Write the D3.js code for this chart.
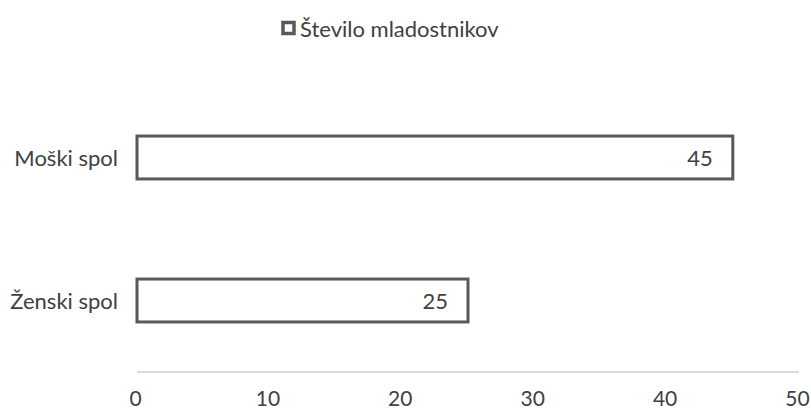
<!DOCTYPE html>
<html>
<head>
<meta charset="utf-8">
<script src="https://cdn.jsdelivr.net/npm/d3@7"></script>
<style>
  body { margin: 0; background: #fff; }
  text { font-family: Lato, "Open Sans", sans-serif; fill: #404040; }
</style>
</head>
<body>
<script>
const categories = ['Moški spol', 'Ženski spol'];
const values = [45, 25];
const seriesName = 'Število mladostnikov';
const xTicks = [0, 10, 20, 30, 40, 50];

const width = 811;
const height = 412;
const fontSize = '22px';

var svg = d3.select('body')
    .append('svg')
    .attr('width', width)
    .attr('height', height);

var x_scale = d3.scaleLinear()
    .domain([0, 50])
    .range([137, 799]);

var y_scale = d3.scaleBand()
    .domain(categories)
    .range([86, 372])
    .paddingInner(0.7)
    .paddingOuter(0.35);

// axis line along the bottom
svg.append('line')
    .attr('x1', x_scale(0))
    .attr('x2', x_scale(50))
    .attr('y1', 372)
    .attr('y2', 372)
    .attr('stroke', '#d9d9d9')
    .attr('stroke-width', 2);

var x_axis = d3.axisBottom(x_scale)
    .tickValues(xTicks)
    .tickSize(0)
    .tickPadding(0);

var gx = svg.append('g')
    .attr('transform', 'translate(-2,406)')
    .call(x_axis);
gx.select('.domain').remove();
gx.selectAll('text')
    .style('font-size', '21px')
    .style('font-family', 'Lato, sans-serif')
    .attr('fill', '#404040')
    .attr('y', 0)
    .attr('dy', null);

// bars
svg.selectAll('rect.bar')
    .data(categories)
    .enter()
    .append('rect')
    .attr('class', 'bar')
    .attr('x', x_scale(0))
    .attr('y', d => y_scale(d))
    .attr('width', (d, i) => x_scale(values[i]) - x_scale(0))
    .attr('height', y_scale.bandwidth())
    .attr('fill', '#fff')
    .attr('stroke', '#595959')
    .attr('stroke-width', 3);

// value labels inside bar ends
svg.selectAll('text.val')
    .data(categories)
    .enter()
    .append('text')
    .attr('class', 'val')
    .attr('x', (d, i) => x_scale(values[i]) - 20)
    .attr('y', d => y_scale(d) + y_scale.bandwidth() / 2)
    .attr('text-anchor', 'end')
    .attr('dominant-baseline', 'central')
    .style('font-size', fontSize)
    .text((d, i) => values[i]);

// category labels
svg.selectAll('text.cat')
    .data(categories)
    .enter()
    .append('text')
    .attr('class', 'cat')
    .attr('x', 118)
    .attr('y', d => y_scale(d) + y_scale.bandwidth() / 2)
    .attr('text-anchor', 'end')
    .attr('dominant-baseline', 'central')
    .style('font-size', fontSize)
    .text(d => d);

// legend
var legend = svg.append('g');
legend.append('rect')
    .attr('x', 283)
    .attr('y', 22.5)
    .attr('width', 11)
    .attr('height', 11)
    .attr('fill', '#fff')
    .attr('stroke', '#595959')
    .attr('stroke-width', 3.5);
legend.append('text')
    .attr('x', 300)
    .attr('y', 28)
    .attr('dominant-baseline', 'central')
    .style('font-size', fontSize)
    .text(seriesName);
</script>
</body>
</html>
